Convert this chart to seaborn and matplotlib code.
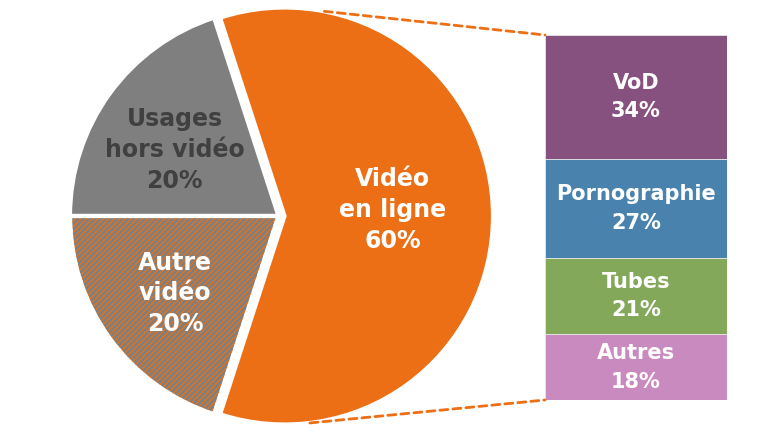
import numpy as np
import matplotlib
matplotlib.use("Agg")
import matplotlib.pyplot as plt
from matplotlib.patches import Wedge, ConnectionPatch
import seaborn as sns

# ---- data ----
pie_labels = ["Vidéo\nen ligne", "Usages\nhors vidéo", "Autre\nvidéo"]
pie_values = [60, 20, 20]
bar_labels = ["VoD", "Pornographie", "Tubes", "Autres"]
bar_values = [34, 27, 21, 18]

# ---- style ----
pie_colors = ["#EC6F15", "#7F7F7F", "#7F7F7F"]
pie_text_colors = ["white", "#404040", "white"]
bar_colors = ["#87517F", "#4A82AE", "#84A85A", "#C98ABF"]
orange = "#EC6F15"

sns.set_theme(style="white")
plt.rcParams["font.family"] = ["DejaVu Sans"]
plt.rcParams["hatch.linewidth"] = 1.0

W, H = 780, 444
fig = plt.figure(figsize=(W / 100, H / 100), dpi=100)
ax = fig.add_axes([0, 0, 1, 1])

cx, cy, R = 278.5, H - 216, 208.5
LW = 3.0
# explode is in data (pixel) units here
wedges, _ = ax.pie(pie_values, colors=pie_colors, startangle=-108, counterclock=True,
                   center=(cx, cy), radius=R, explode=[6, 0, 0],
                   wedgeprops=dict(edgecolor="white", linewidth=LW))
ax.set_xlim(0, W)
ax.set_ylim(0, H)
ax.set_aspect("auto")
ax.axis("off")

# hatched brown look for "Autre vidéo"
bw = wedges[2]
hatch_w = Wedge(bw.center, bw.r, bw.theta1, bw.theta2, facecolor="none",
                edgecolor="#E2721E", hatch="//////", linewidth=0, zorder=bw.get_zorder() + 0.1)
ax.add_patch(hatch_w)
edge_w = Wedge(bw.center, bw.r, bw.theta1, bw.theta2, facecolor="none",
               edgecolor="white", linewidth=LW, zorder=bw.get_zorder() + 0.2)
ax.add_patch(edge_w)

# label placement: (fraction of radius, angle offset in degrees from mid-angle)
label_pos = [(0.52, 3.2), (0.59, 3.4), (0.62, 0.8)]
for w, lab, v, tc, (fr, da) in zip(wedges, pie_labels, pie_values, pie_text_colors, label_pos):
    ang = np.deg2rad((w.theta1 + w.theta2) / 2 + da)
    x = w.center[0] + fr * w.r * np.cos(ang)
    y = w.center[1] + fr * w.r * np.sin(ang)
    ax.text(x, y, f"{lab}\n{v}%", ha="center", va="center", color=tc,
            fontsize=17, fontweight="bold", linespacing=1.36, zorder=10)

# ---- stacked bar ----
ax2 = fig.add_axes([545 / W, 1 - 400 / H, 182 / W, 365 / H])
bottoms = np.concatenate([[0], np.cumsum(bar_values)[:-1]])
ax2.bar(0, bar_values, bottom=bottoms, width=1, color=bar_colors,
        edgecolor="#e6e6e6", linewidth=0.6)
for lab, v, b in zip(bar_labels, bar_values, bottoms):
    ax2.text(0, b + v / 2, f"{lab}\n{v}%", ha="center", va="center", color="white",
             fontsize=15, fontweight="bold", linespacing=1.55)
ax2.set_xlim(-0.5, 0.5)
ax2.set_ylim(sum(bar_values), 0)
ax2.axis("off")

# ---- connector lines ----
ow = wedges[0]
for ang_deg, yb in [(79, 0), (-83, sum(bar_values))]:
    a = np.deg2rad(ang_deg)
    p = (ow.center[0] + ow.r * np.cos(a), ow.center[1] + ow.r * np.sin(a))
    con = ConnectionPatch(xyA=p, coordsA=ax.transData, xyB=(-0.5, yb), coordsB=ax2.transData,
                          color=orange, linewidth=2, linestyle=(0, (2.9, 1.8)))
    fig.add_artist(con)

fig.savefig("out.png", dpi=100)
